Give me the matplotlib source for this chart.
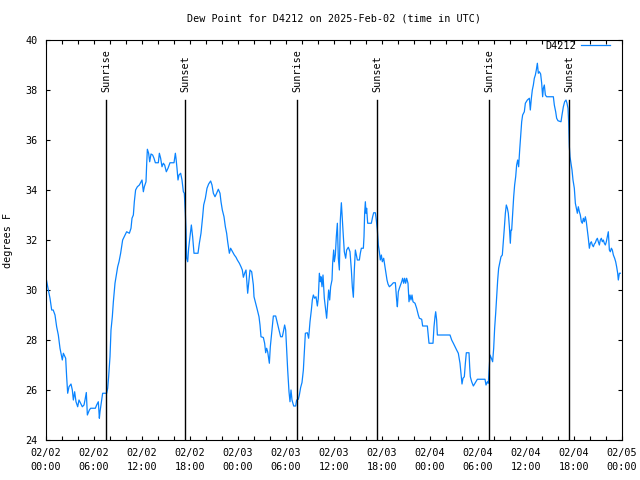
"""Dew point trace for station D4212 with sunrise / sunset markers (gnuplot look)."""

import matplotlib
matplotlib.use("Agg")
import matplotlib.pyplot as plt
import matplotlib.dates as mdates
import pandas as pd

START = pd.Timestamp("2025-02-02 00:00")
END = pd.Timestamp("2025-02-05 00:00")

# hours after START, dew point in degrees F
hours = [
    0.0, 0.29, 0.5, 0.71, 0.9, 1.125, 1.33, 1.54, 1.75, 1.875, 2.04, 2.17, 2.46, 2.58,
    2.71, 2.875, 3.125, 3.29, 3.42, 3.58, 3.75, 3.96, 4.125, 4.33, 4.54, 4.75, 4.875,
    5.04, 5.17, 5.42, 5.58, 6.17, 6.33, 6.54, 6.67, 6.75, 6.96, 7.08, 7.58, 7.71, 7.83,
    8.0, 8.125, 8.29, 8.42, 8.625, 8.83, 8.96, 9.125, 9.33, 9.58, 9.875, 10.08, 10.42,
    10.625, 10.75, 10.92, 11.04, 11.2, 11.42, 11.67, 11.875, 12.0, 12.17, 12.29, 12.5,
    12.58, 12.67, 12.83, 12.96, 13.125, 13.33, 13.5, 13.67, 14.04, 14.17, 14.33, 14.5,
    14.67, 14.83, 15.04, 15.25, 15.5, 16.0, 16.17, 16.25, 16.375, 16.5, 16.625, 16.83,
    17.0, 17.17, 17.29, 17.42, 17.5, 17.58, 17.71, 17.83, 18.0, 18.17, 18.33, 18.5,
    19.0, 19.17, 19.375, 19.58, 19.71, 19.92, 20.125, 20.33, 20.58, 20.75, 20.92,
    21.125, 21.33, 21.54, 21.75, 21.875, 22.04, 22.25, 22.42, 22.58, 22.71, 22.92,
    23.08, 23.29, 23.54, 23.75, 23.92, 24.17, 24.375, 24.54, 24.67, 24.83, 25.0, 25.21,
    25.33, 25.5, 25.71, 25.92, 26.0, 26.21, 26.42, 26.625, 26.75, 26.875, 27.17, 27.33,
    27.46, 27.58, 27.71, 27.92, 28.04, 28.21, 28.42, 28.71, 28.92, 29.125, 29.33,
    29.54, 29.67, 29.83, 29.96, 30.08, 30.21, 30.375, 30.5, 30.625, 30.75, 30.96,
    31.21, 31.33, 31.54, 31.67, 31.83, 32.0, 32.17, 32.29, 32.42, 32.67, 32.83, 33.0,
    33.17, 33.29, 33.42, 33.58, 33.75, 33.92, 34.04, 34.17, 34.29, 34.375, 34.5,
    34.625, 34.79, 34.96, 35.08, 35.21, 35.33, 35.46, 35.58, 35.75, 35.83, 35.96,
    36.04, 36.17, 36.29, 36.42, 36.54, 36.67, 36.79, 36.92, 37.04, 37.17, 37.29,
    37.46, 37.58, 37.79, 38.0, 38.17, 38.29, 38.42, 38.54, 38.67, 38.79, 38.92, 39.17,
    39.29, 39.42, 39.67, 39.75, 39.83, 39.92, 40.0, 40.08, 40.21, 40.67, 40.83, 40.96,
    41.17, 41.29, 41.42, 41.54, 41.67, 41.79, 41.92, 42.04, 42.21, 42.375, 42.5,
    42.625, 42.75, 42.92, 43.17, 43.42, 43.67, 43.83, 43.92, 44.04, 44.17, 44.46,
    44.58, 44.71, 44.83, 44.96, 45.08, 45.25, 45.375, 45.5, 45.625, 45.75, 45.875,
    46.125, 46.33, 46.54, 46.67, 46.96, 47.08, 47.67, 47.875, 48.375, 48.5, 48.625,
    48.71, 48.83, 48.92, 50.5, 50.71, 50.92, 51.125, 51.33, 51.54, 51.75, 51.875,
    52.0, 52.125, 52.29, 52.42, 52.54, 52.875, 52.96, 53.04, 53.21, 53.42, 53.625,
    53.92, 54.875, 55.0, 55.17, 55.29, 55.42, 55.5, 55.67, 55.83, 55.96, 56.08, 56.21,
    56.33, 56.46, 56.58, 56.75, 56.875, 57.04, 57.17, 57.29, 57.42, 57.54, 57.67,
    57.79, 57.92, 58.04, 58.125, 58.21, 58.33, 58.46, 58.58, 58.71, 58.83, 58.96,
    59.08, 59.21, 59.33, 59.46, 59.58, 59.79, 59.92, 60.17, 60.42, 60.54, 60.67,
    60.79, 60.92, 61.04, 61.17, 61.29, 61.42, 61.54, 61.67, 61.83, 61.96, 62.08,
    62.17, 62.29, 62.42, 62.58, 63.42, 63.54, 63.71, 63.83, 64.0, 64.375, 64.5, 64.67,
    64.83, 65.0, 65.125, 65.25, 65.33, 65.42, 65.5, 65.625, 65.75, 65.875, 66.04,
    66.17, 66.29, 66.42, 66.54, 66.67, 66.79, 66.92, 67.04, 67.17, 67.29, 67.42,
    67.54, 67.67, 67.79, 67.92, 68.04, 68.17, 68.29, 68.42, 68.54, 68.67, 68.79,
    68.92, 69.04, 69.17, 69.29, 69.42, 69.54, 69.67, 69.79, 69.92, 70.04, 70.17,
    70.29, 70.42, 70.54, 70.67, 70.79, 70.92, 71.08, 71.21, 71.33, 71.46, 71.54,
    71.67, 71.79,
]
dewpoint = [
    30.5, 30.0, 29.67, 29.2, 29.2, 29.0, 28.53, 28.2, 27.67, 27.47, 27.2, 27.47, 27.27, 26.53,
    25.87, 26.13, 26.24, 26.0, 25.6, 25.93, 25.53, 25.33, 25.6, 25.47, 25.33, 25.4, 25.6,
    25.9, 25.0, 25.2, 25.27, 25.27, 25.4, 25.53, 24.87, 25.13, 25.6, 25.87, 25.87, 26.07, 26.53,
    27.33, 28.4, 28.93, 29.53, 30.27, 30.67, 30.93, 31.13, 31.47, 32.0, 32.2, 32.33, 32.27,
    32.47, 32.87, 33.0, 33.53, 34.0, 34.13, 34.2, 34.33, 34.4, 33.93, 34.13, 34.33,
    35.0, 35.63, 35.47, 35.13, 35.44, 35.4, 35.27, 35.09, 35.09, 35.47, 35.27, 34.93,
    35.07, 35.0, 34.73, 34.87, 35.09, 35.09, 35.47, 35.27, 34.87, 34.4, 34.6, 34.67,
    34.4, 33.93, 33.87, 33.07, 32.4, 31.27, 31.13, 31.67, 32.13, 32.6, 32.13, 31.47,
    31.47, 31.87, 32.27, 32.93, 33.4, 33.67, 34.07, 34.24, 34.36, 34.2, 33.87,
    33.73, 33.87, 34.03, 33.87, 33.53, 33.2, 32.93, 32.53, 32.27, 31.93, 31.47,
    31.67, 31.55, 31.4, 31.31, 31.2, 31.07, 30.93, 30.8, 30.51, 30.67, 30.8, 29.87,
    30.27, 30.8, 30.73, 30.2, 29.73, 29.47, 29.2, 28.93, 28.6, 28.13, 28.1, 27.87,
    27.49, 27.67, 27.53, 27.07, 27.73, 28.27, 28.96, 28.96, 28.67, 28.4, 28.13,
    28.13, 28.33, 28.6, 28.4, 27.6, 26.8, 25.93, 25.53, 26.0, 25.6, 25.36,
    25.36, 25.6, 25.63, 25.8, 26.1, 26.3, 26.8, 27.47, 28.27, 28.29, 28.07, 28.73,
    29.2, 29.6, 29.8, 29.67, 29.73, 29.36, 29.67, 30.67, 30.33, 30.53, 30.13,
    30.6, 29.67, 29.2, 28.87, 29.47, 30.0, 29.6, 30.13, 30.4, 31.07, 31.6,
    31.13, 31.4, 32.13, 32.67, 31.27, 30.8, 32.8, 33.49, 32.8, 32.13, 31.53,
    31.27, 31.6, 31.71, 31.53, 30.8, 30.13, 29.71, 30.8, 31.6, 31.4, 31.2, 31.2,
    31.47, 31.67, 31.67, 32.13, 33.07, 33.53, 33.07, 33.27, 32.67, 32.67, 32.93, 33.09,
    33.09, 32.8, 32.4, 31.8, 31.53, 31.2, 31.4, 31.13, 31.27, 30.93, 30.67,
    30.4, 30.24, 30.13, 30.2, 30.29, 30.29, 29.6, 29.33, 29.93, 30.07, 30.33,
    30.47, 30.27, 30.47, 30.27, 30.47, 30.27, 29.53, 29.8, 29.6, 29.8, 29.53,
    29.47, 29.27, 29.0, 28.87, 28.83, 28.56, 28.56, 27.87, 27.87, 28.53, 28.93,
    29.13, 28.8, 28.2, 28.2, 28.0, 27.87, 27.73, 27.6, 27.47, 27.07, 26.67,
    26.24, 26.47, 26.53, 27.07, 27.49, 27.49, 26.93, 26.53, 26.33, 26.16, 26.27,
    26.43, 26.43, 26.2, 26.33, 26.27, 26.93, 27.4, 27.27, 27.13, 27.67, 28.47, 29.07,
    29.73, 30.4, 30.87, 31.13, 31.33, 31.4, 31.93, 32.47, 33.07, 33.4, 33.27,
    33.07, 32.53, 31.87, 32.4, 32.4, 33.07, 33.73, 34.2, 34.53, 35.0, 35.2,
    34.93, 35.6, 36.13, 36.73, 37.0, 37.13, 37.47, 37.6, 37.67, 37.2, 37.67,
    38.0, 38.2, 38.47, 38.6, 38.8, 39.07, 38.67, 38.73, 38.64, 38.27, 37.73,
    38.07, 38.2, 37.8, 37.73, 37.73, 37.4, 37.13, 36.87, 36.77, 36.73, 37.0, 37.33,
    37.53, 37.6, 37.47, 37.27, 36.73, 35.73, 35.33, 35.07, 34.8, 34.4, 34.07,
    33.47, 33.27, 33.07, 33.33, 33.13, 33.0, 32.73, 32.67, 32.87, 32.73, 32.93,
    32.73, 32.4, 32.07, 31.67, 31.87, 31.93, 31.8, 31.73, 31.84, 31.89, 32.0,
    32.07, 31.93, 31.8, 32.0, 32.07, 31.93, 32.0, 31.87, 31.8, 31.93, 32.13,
    32.33, 31.6, 31.53, 31.67, 31.6, 31.4, 31.27, 31.13, 30.93, 30.67, 30.4,
    30.67, 30.67,
]

# sun events, hours after START
sunrise_hours = [7.55, 31.42, 55.42]
sunset_hours = [17.42, 41.42, 65.42]

FONT = "DejaVu Sans Mono"
FS = 7.3
plt.rcParams["font.family"] = FONT
plt.rcParams["font.size"] = FS

times = START + pd.to_timedelta(hours, unit="h")

fig = plt.figure(figsize=(6.4, 4.8), dpi=100)
ax = fig.add_axes([46 / 640, 40 / 480, 576 / 640, 400 / 480])

ax.plot(times, dewpoint, color="#0a84ff", linewidth=0.9, label="D4212", zorder=2)

for hrs, name in [(sunrise_hours, "Sunrise"), (sunset_hours, "Sunset")]:
    for h in hrs:
        t = START + pd.Timedelta(hours=h)
        ax.plot([t, t], [24, 37.6], color="black", linewidth=1.0, zorder=3)
        ax.text(t, 37.9, name, rotation=90, ha="center", va="bottom", fontsize=FS)

ax.set_xlim(START, END)
ax.set_ylim(24, 40)
ax.set_yticks(range(24, 41, 2))

ax.xaxis.set_major_locator(mdates.HourLocator(byhour=[0, 6, 12, 18]))
ax.xaxis.set_minor_locator(mdates.HourLocator(interval=2))
ax.xaxis.set_major_formatter(mdates.DateFormatter("%m/%d\n%H:%M"))
for lbl in ax.get_xticklabels():
    lbl.set_linespacing(1.5)

ax.tick_params(which="both", direction="in", length=3.2, width=0.8,
               top=True, right=True, labelsize=FS, color="black")
ax.tick_params(axis="x", which="major", pad=6)
ax.tick_params(axis="y", pad=6)
for sp in ax.spines.values():
    sp.set_linewidth(0.8)

ax.set_ylabel("degrees F", fontsize=FS, labelpad=9)
ax.set_title("Dew Point for D4212 on 2025-Feb-02 (time in UTC)", fontsize=FS, pad=13)

# legend sits just under the top frame, text right-aligned before the sample
ax.legend(loc="upper right", frameon=False, markerfirst=False, handlelength=2.9,
          fontsize=FS, borderaxespad=0.0, borderpad=0.2, handletextpad=0.5,
          bbox_to_anchor=((612 - 46) / 576, 1.003))

fig.savefig("out.png", dpi=100)
